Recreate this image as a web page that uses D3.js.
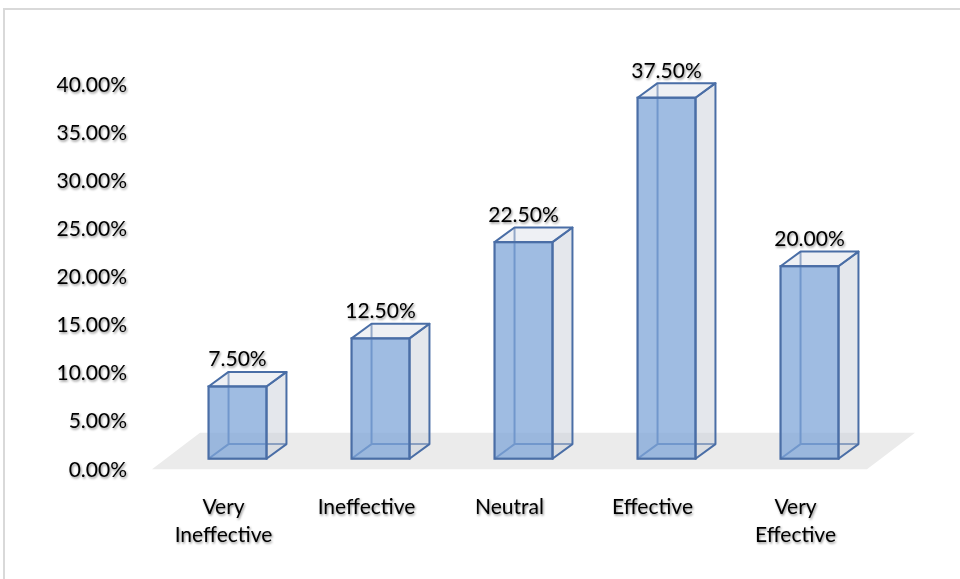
<!DOCTYPE html>
<html>
<head>
<meta charset="utf-8">
<script src="https://cdn.jsdelivr.net/npm/d3@7"></script>
<style>
  body { margin: 0; background: #fff; }
  svg text { font-family: Lato, "Open Sans", sans-serif; font-size: 21px; fill: #000; }
</style>
</head>
<body>
<svg id="chart" width="960" height="579"></svg>
<script>
// Data
const categories = ['Very\nIneffective', 'Ineffective', 'Neutral', 'Effective', 'Very\nEffective']
const values = [0.075, 0.125, 0.225, 0.375, 0.20]
const yTicks = [0, 0.05, 0.10, 0.15, 0.20, 0.25, 0.30, 0.35, 0.40]

// 3d look: depth offset of a bar, and how far the floor reaches in front/behind
const depth = {dx: 20, dy: -14.6}
const front = {dx: -14, dy: 10.6}
const back = {dx: 14, dy: -11.3}

const svg = d3.select('#chart')
const defs = svg.append('defs')
defs.append('filter').attr('id', 'shadow')
    .attr('x', '-10%').attr('y', '-10%').attr('width', '130%').attr('height', '140%')
    .append('feDropShadow')
    .attr('dx', 1).attr('dy', 1.5).attr('stdDeviation', 1)
    .attr('flood-color', '#000').attr('flood-opacity', 0.45)

// chart border
svg.append('rect').attr('x', 4).attr('y', 9).attr('width', 980).attr('height', 600)
    .attr('fill', 'none').attr('stroke', '#d9d9d9').attr('stroke-width', 2)

const x = d3.scaleBand().domain(categories).range([166, 881]).padding(0)
const y = d3.scaleLinear().domain([0, 0.40]).range([458.7, 458.7 - 385])
const barW = x.bandwidth() * 0.405
const yAxisScale = y.copy().range(y.range().map(v => v + front.dy))

// floor
const [x0, x1] = x.range(), yb = y(0)
const floorPts = [
    [x0 + front.dx, yb + front.dy], [x1 + front.dx, yb + front.dy],
    [x1 + depth.dx + back.dx, yb + depth.dy + back.dy], [x0 + depth.dx + back.dx, yb + depth.dy + back.dy]
]
svg.append('path').attr('d', d3.line()(floorPts) + 'Z').attr('fill', '#ebebeb')

// y axis labels
const yAxis = svg.append('g').attr('transform', 'translate(130,0)')
    .call(d3.axisLeft(yAxisScale).tickValues(yTicks).tickFormat(d3.format('.2%')).tickSize(0).tickPadding(3))
yAxis.select('.domain').remove()
yAxis.selectAll('text').attr('filter', 'url(#shadow)').attr('fill', null)
yAxis.attr('font-family', null).attr('font-size', null)

// bars
const stroke = '#4a6ea6'
const bars = svg.selectAll('.bar').data(categories).enter().append('g').attr('class', 'bar')
bars.each(function(c, i) {
    const g = d3.select(this)
    const l = x(c) + (x.bandwidth() - barW) / 2, r = l + barW
    const t = y(values[i]), b = y(0)
    const {dx, dy} = depth
    const poly = pts => d3.line()(pts) + 'Z'
    // hidden edges, seen through the transparent faces
    g.append('path').attr('d', `M${l + dx},${b + dy}V${t + dy}M${l + dx},${b + dy}H${r + dx}M${l},${b}L${l + dx},${b + dy}`)
        .attr('stroke', stroke).attr('stroke-width', 2).attr('fill', 'none')
    // side
    g.append('path').attr('d', poly([[r, b], [r + dx, b + dy], [r + dx, t + dy], [r, t]]))
        .attr('fill', '#c9cfd9').attr('fill-opacity', 0.5).attr('stroke', stroke).attr('stroke-width', 2)
        .attr('stroke-linejoin', 'round')
    // top
    g.append('path').attr('d', poly([[l, t], [r, t], [r + dx, t + dy], [l + dx, t + dy]]))
        .attr('fill', '#dde1e9').attr('fill-opacity', 0.5).attr('stroke', stroke).attr('stroke-width', 2)
        .attr('stroke-linejoin', 'round')
    // front
    g.append('rect').attr('x', l).attr('y', t).attr('width', barW).attr('height', b - t)
        .attr('fill', '#7fa6d8').attr('fill-opacity', 0.75).attr('stroke', stroke).attr('stroke-width', 2.2)
    // value label
    g.append('text').attr('x', (l + r) / 2).attr('y', t + dy - 5.5).attr('text-anchor', 'middle')
        .attr('filter', 'url(#shadow)').text(d3.format('.2%')(values[i]))
})

// category labels (front edge of the floor)
svg.selectAll('.cat').data(categories).enter().append('text')
    .attr('class', 'cat').attr('text-anchor', 'middle').attr('filter', 'url(#shadow)')
    .attr('transform', c => `translate(${x(c) + x.bandwidth() / 2 + front.dx},514)`)
    .selectAll('tspan').data(c => c.split('\n')).enter().append('tspan')
    .attr('x', 0).attr('y', (d, i) => i * 28).text(d => d)
</script>
</body>
</html>
